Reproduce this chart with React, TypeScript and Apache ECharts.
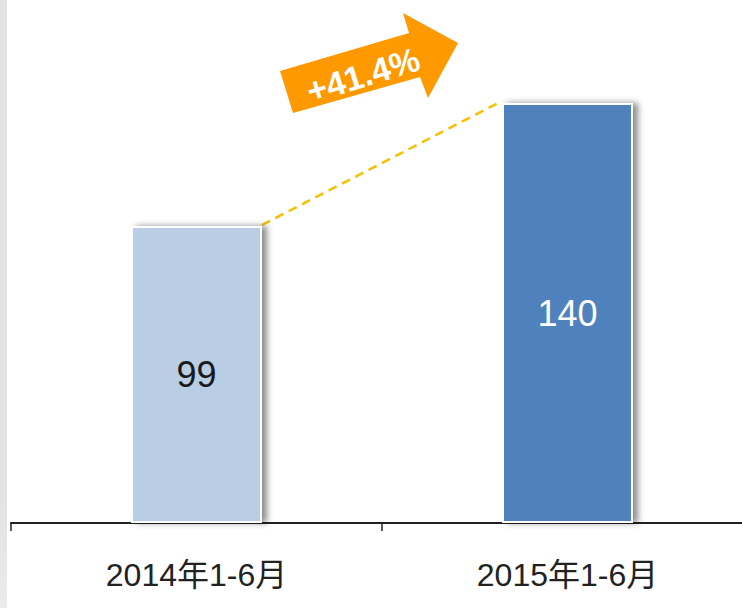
import React, { useEffect, useRef } from "react";
import * as echarts from "echarts";

const categories = ["2014年1-6月", "2015年1-6月"];
const values = [99, 140];
const barColors = ["#b9cde5", "#4f81bd"];
const labelColors = ["#1a1a1a", "#ffffff"];

export default function App() {
  const ref = useRef<HTMLDivElement>(null);
  useEffect(() => {
    const chart = echarts.init(ref.current!, null, { renderer: "svg" });
    const growth = ((values[1] / values[0] - 1) * 100).toFixed(1);
    const font = "'Liberation Sans', Arial, 'Noto Sans CJK SC', sans-serif";
    const barWidth = 131;
    chart.setOption({
      animation: false,
      backgroundColor: "#ffffff",
      grid: {
        left: 11,
        width: 742,
        top: 13,
        height: 510,
        containLabel: false,
        outerBoundsMode: "none",
      },
      xAxis: {
        type: "category",
        data: categories,
        axisLine: { lineStyle: { color: "#222", width: 2 } },
        axisTick: { show: true, length: 8, lineStyle: { color: "#222", width: 1.5 } },
        axisLabel: { fontSize: 32, color: "#222", margin: 36, fontFamily: font },
      },
      yAxis: { type: "value", min: 0, max: 170, show: false, splitLine: { show: false } },
      series: [
        {
          type: "bar",
          barWidth,
          data: values.map((v, i) => ({
            value: v,
            itemStyle: { color: barColors[i] },
            label: { color: labelColors[i] },
          })),
          itemStyle: {
            borderColor: "#ffffff",
            borderWidth: 2,
            shadowColor: "rgba(0,0,0,0.45)",
            shadowBlur: 6,
            shadowOffsetX: 5,
            shadowOffsetY: 0,
          },
          label: {
            show: true,
            position: "inside",
            fontSize: 36,
            fontFamily: font,
          },
        },
      ],
    });
    const p0 = chart.convertToPixel({ gridIndex: 0 }, [0, values[0]]) as number[];
    const p1 = chart.convertToPixel({ gridIndex: 0 }, [1, values[1]]) as number[];
    chart.setOption({
      graphic: [
        {
          type: "rect",
          shape: { x: 0, y: 0, width: 7, height: 608 },
          style: {
            fill: new echarts.graphic.LinearGradient(0, 0, 0, 1, [
              { offset: 0, color: "#e2e2e2" },
              { offset: 0.8, color: "#e2e2e2" },
              { offset: 1, color: "#ebebee" },
            ]),
          },
          silent: true,
        },
        {
          type: "line",
          shape: { x1: p0[0] + barWidth / 2, y1: p0[1] - 1, x2: p1[0] - barWidth / 2, y2: p1[1] - 2 },
          style: { stroke: "#f7bf00", lineWidth: 2.5, lineDash: [9, 6] },
          silent: true,
        },
        {
          type: "polygon",
          shape: {
            points: [
              [280, 71],
              [409, 33],
              [403, 13],
              [458, 43],
              [428, 98],
              [420, 77],
              [293, 113],
            ],
          },
          style: { fill: "#ff9900" },
          silent: true,
        },
        {
          type: "text",
          x: 363,
          y: 75,
          rotation: (17 * Math.PI) / 180,
          style: {
            text: "+" + growth + "%",
            fill: "#ffffff",
            font: "bold 34px " + font,
            align: "center",
            verticalAlign: "middle",
          },
          silent: true,
        },
      ],
    });
    return () => chart.dispose();
  }, []);
  return (
    <div
      ref={ref}
      style={{ position: "absolute", left: 0, top: 0, width: 742, height: 608 }}
    />
  );
}
